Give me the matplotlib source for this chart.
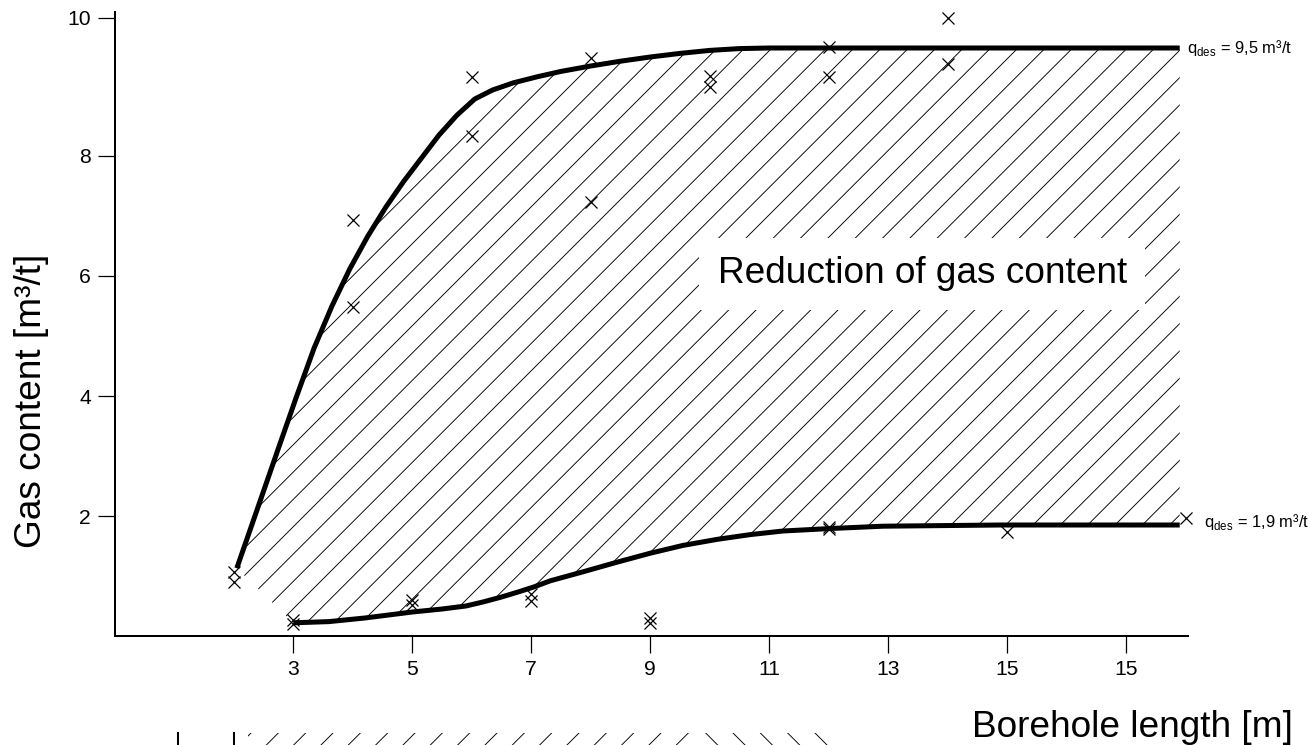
import numpy as np
import matplotlib
matplotlib.use("Agg")
import matplotlib.pyplot as plt
from matplotlib.patches import Rectangle

plt.rcParams['font.family'] = ['Liberation Sans', 'DejaVu Sans']
plt.rcParams['mathtext.fontset'] = 'custom'
plt.rcParams['mathtext.rm'] = 'Liberation Sans'
plt.rcParams['hatch.linewidth'] = 0.8

# measured points (x = borehole length, y = gas content)
meas_x = [2, 2, 3, 3, 4, 4, 5, 5, 6, 6, 7, 7, 8, 8, 9, 9, 10, 10,
          12, 12, 12, 12, 14, 14, 15, 18]
meas_y = [1.07, 0.9, 0.27, 0.2, 6.93, 5.48, 0.6, 0.52, 9.32, 8.33, 0.7, 0.58,
          9.63, 7.23, 0.3, 0.22, 9.33, 9.15, 9.82, 9.32, 1.78, 1.82, 10.3, 9.53,
          1.73, 1.97]

# upper envelope (before degassing)
upper_x = [2.05, 2.4, 2.75, 3.05, 3.35, 3.65, 3.95, 4.25, 4.55, 4.85, 5.15,
           5.45, 5.75, 6.05, 6.35, 6.7, 7.1, 7.5, 8.0, 8.5, 9.0, 9.5, 10.0,
           10.5, 11.0, 17.9]
upper_y = [1.13, 2.13, 3.13, 3.98, 4.8, 5.5, 6.12, 6.66, 7.14, 7.57, 7.96,
           8.35, 8.68, 8.95, 9.1, 9.22, 9.32, 9.41, 9.5, 9.58, 9.65, 9.71, 9.76,
           9.79, 9.8, 9.8]

# lower envelope (after degassing)
lower_x = [3.0, 3.6, 4.2, 5.0, 5.5, 5.9, 6.2, 6.5, 6.8, 7.05, 7.32, 7.87,
           8.44, 9.0, 9.55, 10.12, 10.68, 11.23, 12.0, 12.91, 14.88, 17.9]
lower_y = [0.22, 0.24, 0.3, 0.4, 0.45, 0.5, 0.57, 0.65, 0.74, 0.82, 0.92, 1.07,
           1.23, 1.38, 1.51, 1.61, 1.69, 1.75, 1.79, 1.83, 1.85, 1.85]

xtick_pos = [3, 5, 7, 9, 11, 13, 15, 17]
xtick_lab = ['3', '5', '7', '9', '11', '13', '15', '15']
ytick_pos = [2, 4, 6, 8, 10.3]
ytick_lab = ['2', '4', '6', '8', '10']

fig = plt.figure(figsize=(1308 / 82, 745 / 82), dpi=82)
ax = fig.add_axes([0.0878, 0.1463, 0.8205, 0.8376])

# hatched band between the two curves
poly_x = upper_x + lower_x[::-1]
poly_y = upper_y + lower_y[::-1]
ax.fill(poly_x, poly_y, facecolor='none', edgecolor='black', hatch='/',
        linewidth=0, zorder=1)

ax.plot(upper_x, upper_y, color='black', lw=4.4, solid_capstyle='butt',
        solid_joinstyle='round', zorder=3)
ax.plot(lower_x, lower_y, color='black', lw=4.4, solid_capstyle='butt',
        solid_joinstyle='round', zorder=3)
ax.plot(meas_x, meas_y, linestyle='none', marker='x', color='black',
        ms=10.5, mew=1.1, zorder=4, clip_on=False)

ax.text(13.57, 5.88, 'Reduction of gas content', fontsize=32.5,
        ha='center', va='baseline', zorder=5,
        bbox=dict(boxstyle='square,pad=0.5', facecolor='white', edgecolor='none'))

ax.text(18.02, upper_y[-1], r'q$_{\rm des}$ = 9,5 m³/t', fontsize=14.5,
        ha='left', va='center', clip_on=False)
ax.text(18.3, 1.9, r'q$_{\rm des}$ = 1,9 m³/t', fontsize=14.5,
        ha='left', va='center', clip_on=False)

ax.set_xlim(0, 18.04)
ax.set_ylim(0, 10.4)
ax.set_xticks(xtick_pos)
ax.set_xticklabels(xtick_lab)
ax.set_yticks(ytick_pos)
ax.set_yticklabels(ytick_lab)
ax.tick_params(axis='both', direction='out', length=15, width=1.1,
               pad=6, labelsize=18.5, color='black')
for side in ['top', 'right']:
    ax.spines[side].set_visible(False)
for side in ['left', 'bottom']:
    ax.spines[side].set_linewidth(1.75)

fig.text(32 / 1308, 1 - 401 / 745, 'Gas content [m³/t]', fontsize=32.5,
         rotation=90, ha='center', va='center')
fig.text(1293 / 1308, 1 - 737 / 745, 'Borehole length [m]', fontsize=32.5,
         ha='right', va='baseline')

# cut-off remnant of the next figure at the bottom edge
fig.add_artist(Rectangle((248 / 1308, 0), 442 / 1308, 12 / 745,
                         transform=fig.transFigure, facecolor='none',
                         edgecolor='black', hatch='/', linewidth=0))
fig.add_artist(Rectangle((705 / 1308, 0), 125 / 1308, 12 / 745,
                         transform=fig.transFigure, facecolor='none',
                         edgecolor='black', hatch='\\', linewidth=0))
for px in [178, 234]:
    fig.add_artist(plt.Line2D([px / 1308, px / 1308], [0, 12 / 745],
                              transform=fig.transFigure, color='black', lw=1.8))

fig.savefig('out.png', dpi=82)
plt.close(fig)
